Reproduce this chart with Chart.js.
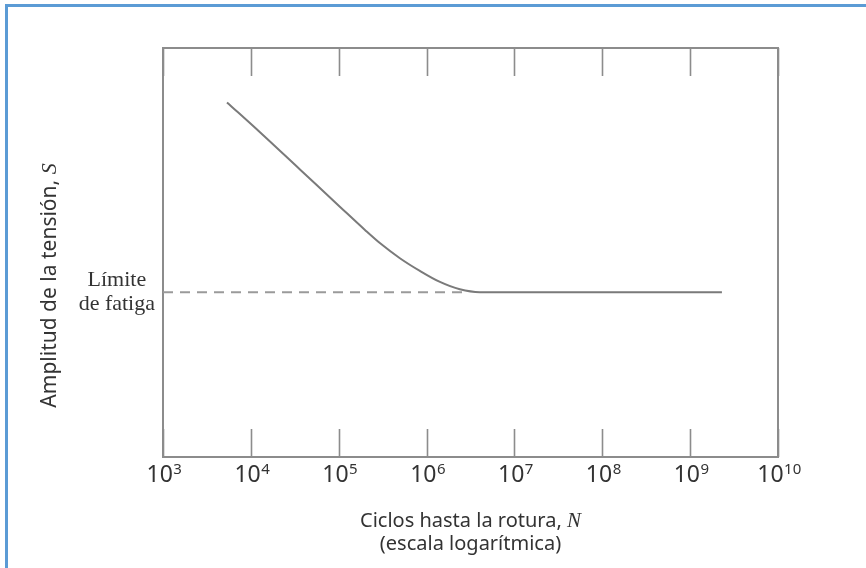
<!DOCTYPE html>
<html><head><meta charset="utf-8">
<script src="https://cdn.jsdelivr.net/npm/chart.js@4.4.1/dist/chart.umd.min.js"></script>
<style>
html,body{margin:0;padding:0;background:#fff;}
#wrap{position:relative;width:866px;height:568px;overflow:hidden;}
#frame{position:absolute;left:5px;top:4px;width:900px;height:600px;border-top:3px solid #5b9bd5;border-left:3px solid #5b9bd5;pointer-events:none;}
canvas{position:absolute;left:0;top:0;}
</style></head><body>
<div id="wrap"><canvas id="c" width="866" height="568"></canvas><div id="frame"></div></div>
<script>
// S-N curve
const cycles    = [5350, 12700, 36200, 103000, 199000, 294000, 497000, 839000, 1420000, 2390000, 4040000, 2300000000];
const amplitude = [86.7, 79.4, 70.3, 61.2, 55.5, 52.3, 48.6, 45.5, 42.8, 41.0, 40.3, 40.3];
// endurance (fatigue) limit, dashed
const fatigueCycles = [1000, 3000000];
const fatigueLimit  = [40.3, 40.3];
// axis ticks
const xTickValues    = [1e3, 1e4, 1e5, 1e6, 1e7, 1e8, 1e9, 1e10];
const xTickBase      = '10';
const xTickExponents = ['3', '4', '5', '6', '7', '8', '9', '10'];
const yTickLabel     = ['Límite', 'de fatiga'];
// axis titles (plain part, italic symbol)
const xTitle  = ['Ciclos hasta la rotura, ', 'N'];
const xTitle2 = '(escala logarítmica)';
const yTitle  = ['Amplitud de la tensión, ', 'S'];

const AREA = {left: 163, right: 778, top: 48, bottom: 457};
const TEXT = '#333';
const AXIS = '#8c8c8c';

const frame = {
  id: 'frame',
  beforeDatasetsDraw(chart) {
    const {ctx, chartArea: a, scales: {x}} = chart;
    ctx.save();
    ctx.strokeStyle = AXIS;
    ctx.lineWidth = 2;
    ctx.strokeRect(a.left, a.top, a.right - a.left, a.bottom - a.top);
    const L = 28;
    ctx.lineWidth = 1.6;
    xTickValues.forEach(v => {
      const px = Math.round(x.getPixelForValue(v)) + 0.5;
      ctx.beginPath();
      ctx.moveTo(px, a.top); ctx.lineTo(px, a.top + L);
      ctx.moveTo(px, a.bottom); ctx.lineTo(px, a.bottom - L);
      ctx.stroke();
    });
    ctx.restore();
  },
  afterDraw(chart) {
    const {ctx, chartArea: a, scales: {x}} = chart;
    ctx.save();
    ctx.fillStyle = TEXT;
    ctx.textBaseline = 'alphabetic';
    ctx.textAlign = 'left';
    const baseFont = '23px "Noto Sans"';
    const expFont = '15px "Noto Sans"';
    const yb = a.bottom + 25;
    xTickValues.forEach((v, i) => {
      const px = x.getPixelForValue(v);
      ctx.font = baseFont;
      const wb = ctx.measureText(xTickBase).width;
      ctx.font = expFont;
      const we = ctx.measureText(xTickExponents[i]).width;
      const start = px - (wb + we) / 2 + 1;
      ctx.font = baseFont;
      ctx.fillText(xTickBase, start, yb);
      ctx.font = expFont;
      ctx.fillText(xTickExponents[i], start + wb + 0.5, yb - 8);
    });
    // x title
    const plain = '20px "Noto Sans"';
    const ital = 'italic 21px "Liberation Serif"';
    const cx = (a.left + a.right) / 2;
    ctx.font = plain;
    const w1 = ctx.measureText(xTitle[0]).width;
    ctx.font = ital;
    const w2 = ctx.measureText(xTitle[1]).width;
    let sx = cx - (w1 + w2) / 2;
    ctx.font = plain; ctx.fillText(xTitle[0], sx, a.bottom + 70);
    ctx.font = ital; ctx.fillText(xTitle[1], sx + w1, a.bottom + 70);
    ctx.font = plain; ctx.textAlign = 'center';
    ctx.fillText(xTitle2, cx, a.bottom + 93);
    // y title
    const yPlain = '21px "Noto Sans"';
    const yItal = 'italic 22px "Liberation Serif"';
    ctx.textAlign = 'left';
    ctx.save();
    ctx.translate(56, (a.top + a.bottom) / 2 + 33);
    ctx.rotate(-Math.PI / 2);
    ctx.font = yPlain;
    const v1 = ctx.measureText(yTitle[0]).width;
    ctx.font = yItal;
    const v2 = ctx.measureText(yTitle[1]).width;
    const sy = -(v1 + v2) / 2;
    ctx.font = yPlain; ctx.fillText(yTitle[0], sy, 0);
    ctx.font = yItal; ctx.fillText(yTitle[1], sy + v1, 0);
    ctx.restore();
    ctx.restore();
  }
};

new Chart(document.getElementById('c'), {
  type: 'line',
  data: {
    datasets: [
      {
        label: 'Límite de fatiga',
        data: fatigueCycles.map((c, i) => ({x: c, y: fatigueLimit[i]})),
        borderColor: '#9a9a9a',
        borderWidth: 2,
        borderDash: [10, 7],
        pointRadius: 0,
        fill: false
      },
      {
        label: 'Curva S-N',
        data: cycles.map((c, i) => ({x: c, y: amplitude[i]})),
        borderColor: '#7a7a7a',
        borderWidth: 2,
        pointRadius: 0,
        cubicInterpolationMode: 'monotone',
        fill: false
      }
    ]
  },
  plugins: [frame],
  options: {
    responsive: false,
    animation: false,
    events: [],
    layout: {padding: {top: AREA.top, right: 866 - AREA.right, left: 0, bottom: 0}},
    plugins: {legend: {display: false}, tooltip: {enabled: false}},
    scales: {
      x: {
        type: 'logarithmic',
        min: 1e3, max: 1e10,
        grid: {display: false, drawTicks: false},
        border: {display: false},
        ticks: {display: false},
        afterFit: s => { s.height = 568 - AREA.bottom; }
      },
      y: {
        type: 'linear',
        min: 0, max: 100,
        grid: {display: false, drawTicks: false},
        border: {display: false},
        afterBuildTicks: s => { s.ticks = [{value: fatigueLimit[0]}]; },
        ticks: {
          autoSkip: false,
          padding: 8,
          crossAlign: 'center',
          color: TEXT,
          font: {family: 'Liberation Serif', size: 22, lineHeight: 1.1},
          callback: () => yTickLabel
        },
        afterFit: s => { s.width = AREA.left; }
      }
    }
  }
});
</script>
</body></html>
